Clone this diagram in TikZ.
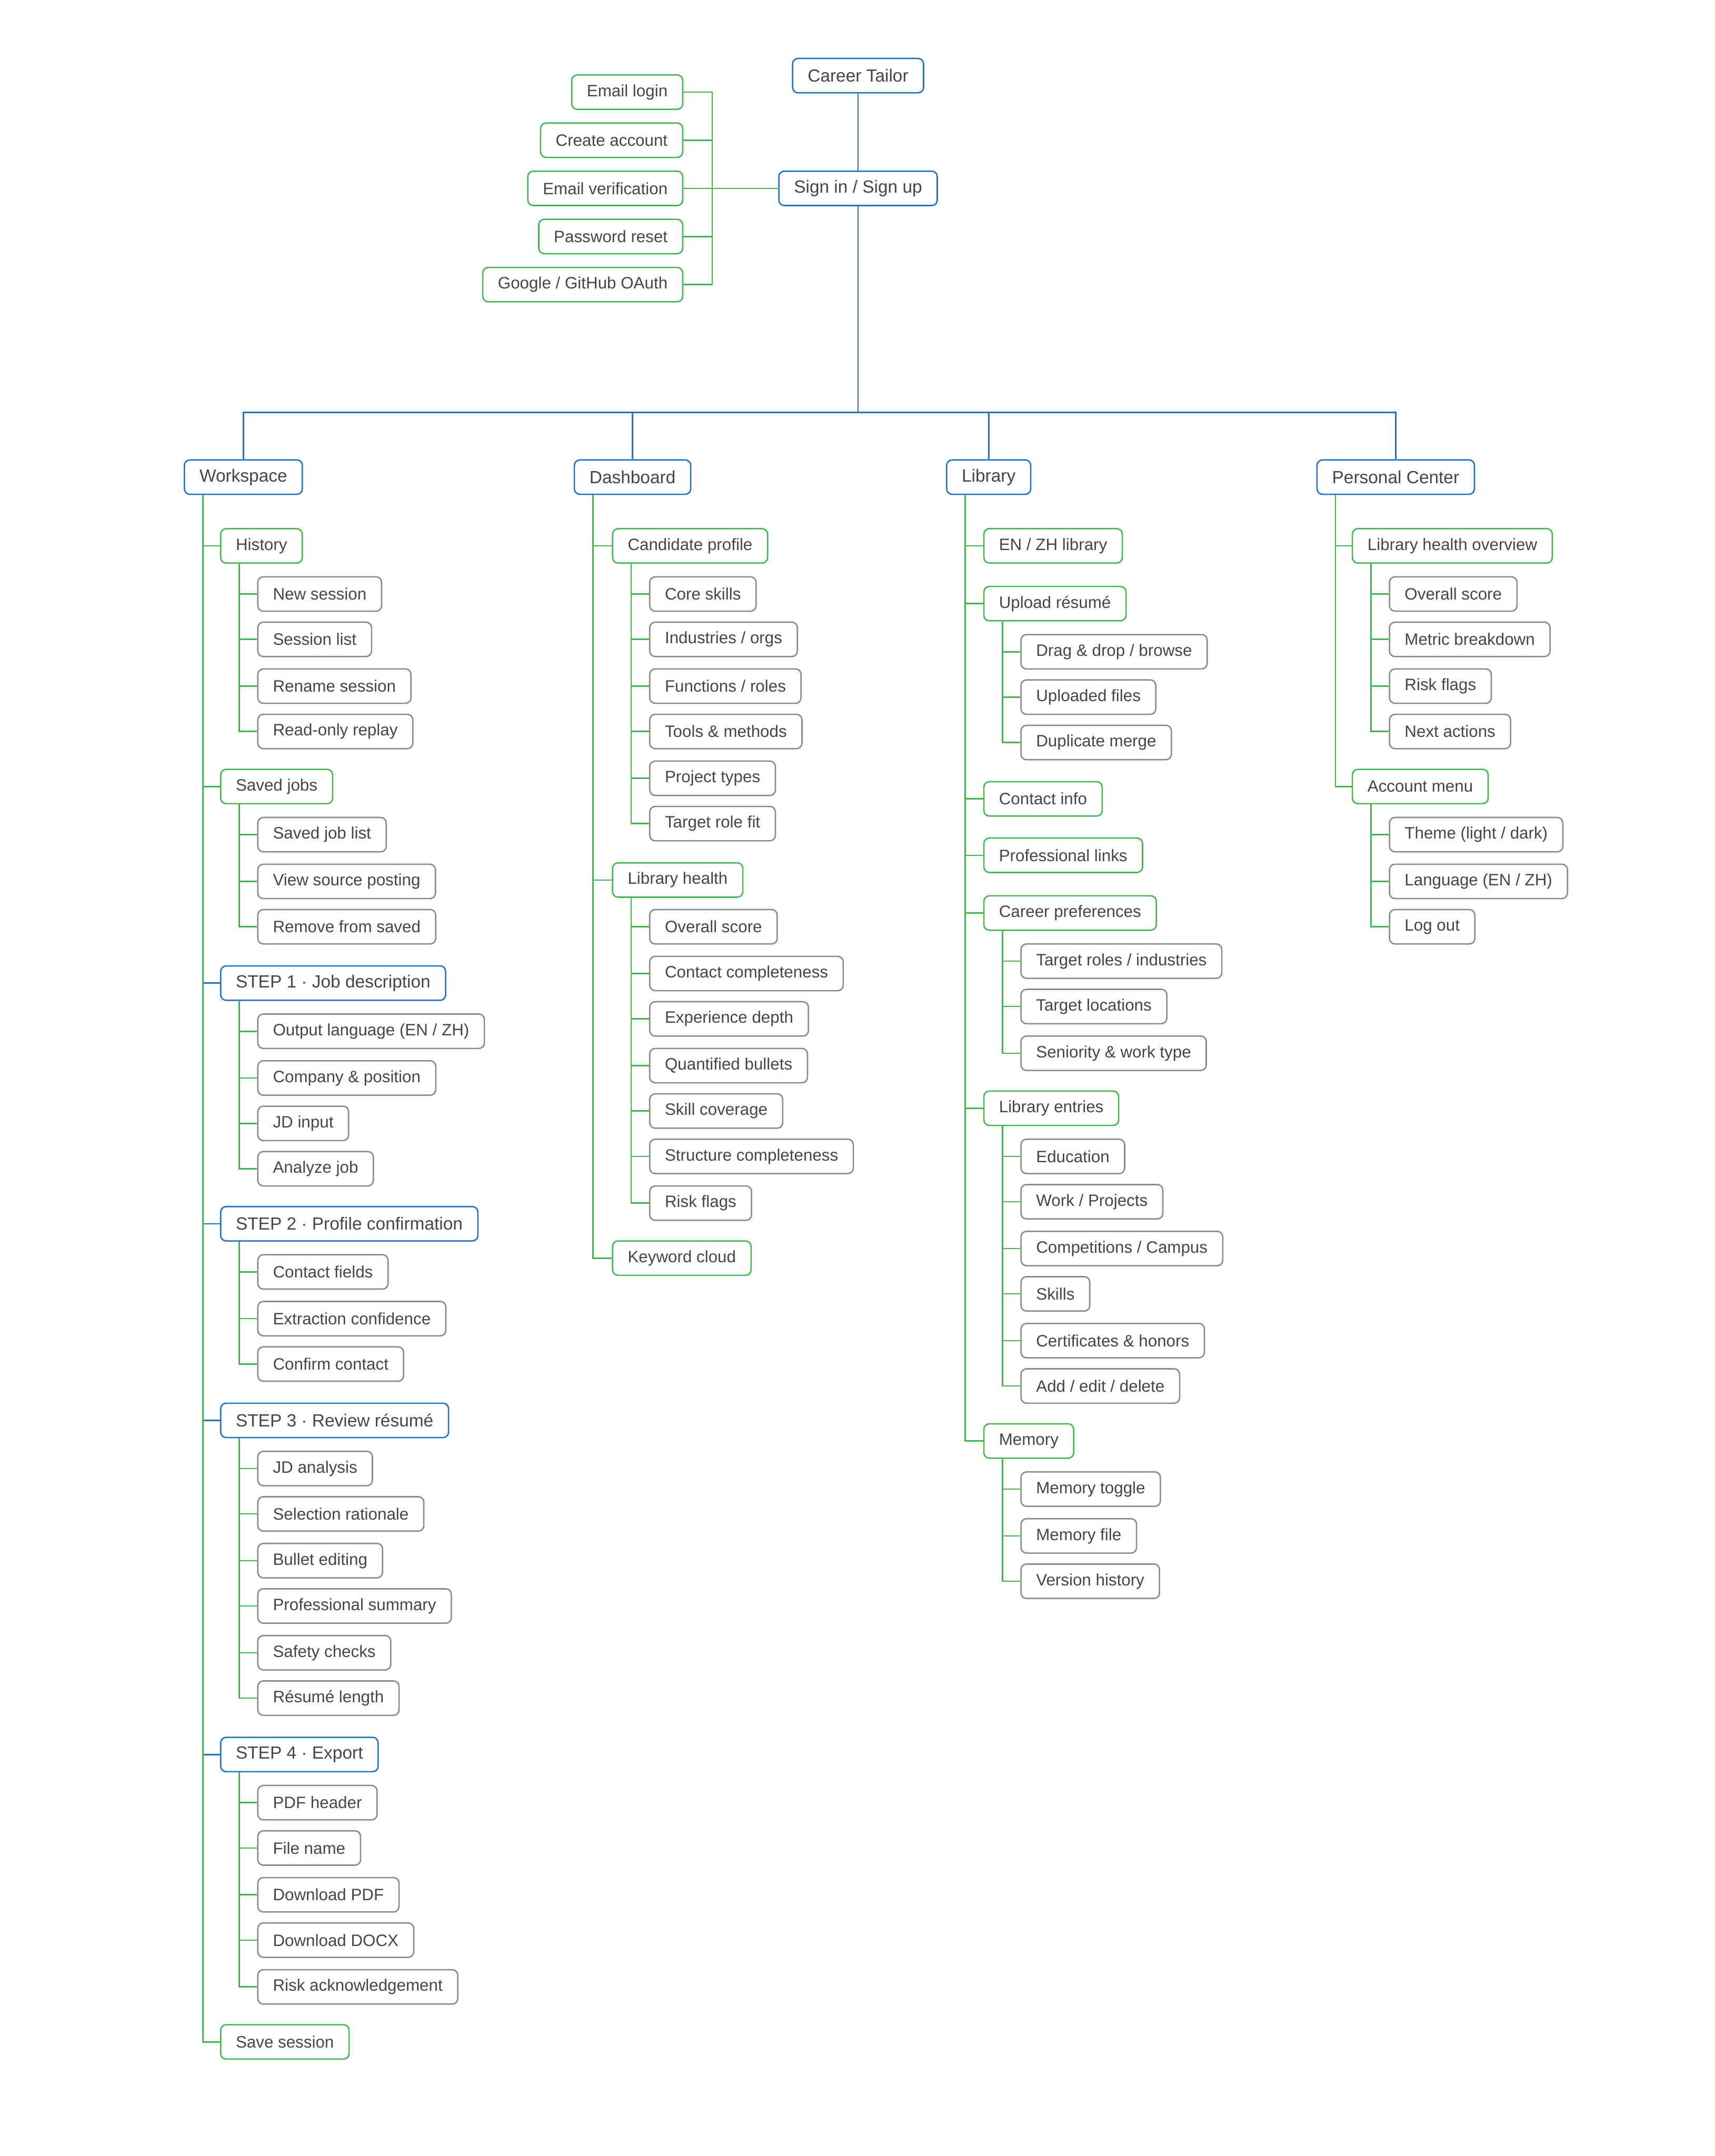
\documentclass[tikz,border=0pt]{standalone}
\usepackage{fontspec}
\setmainfont{Liberation Sans}
\definecolor{cb}{HTML}{2272C3}
\definecolor{cg}{HTML}{45B552}
\definecolor{cgr}{HTML}{8A8A8A}
\definecolor{tx}{HTML}{454545}
\newcommand\kid[7]{\node[#1,anchor=west] (#3) at (#4,-#5) {#6};
  \draw[#2] ([xshift=14pt]#7.south west) |- (#3.west);}
\newcommand\auth[3]{\node[G,anchor=east] (#1) at (497,-#2) {#3};
  \draw[lg] (si.west) -- ++(-48,0) |- (#1.east);}
\begin{document}
\begin{tikzpicture}[x=1pt,y=1pt,
 box/.style={draw,rounded corners=4pt,line width=1pt,minimum height=25pt,inner xsep=11pt,inner ysep=0pt,text=tx,font=\fontsize{12}{14}\selectfont},
 B/.style={box,draw=cb,font=\fontsize{12.8}{15}\selectfont},
 G/.style={box,draw=cg},
 R/.style={box,draw=cgr},
 lb/.style={draw=cb,line width=1pt},
 lg/.style={draw=cg,line width=1pt}]
\useasboundingbox (0,0) rectangle (1247.2,-1568);
\node[B] (ct) at (624,-55) {Career Tailor};
\node[B] (si) at (624,-137) {Sign in / Sign up};
\draw[lb] (ct) -- (si);
\auth{aua}{67}{Email login}
\auth{aub}{102}{Create account}
\auth{auc}{137}{Email verification}
\auth{aud}{172}{Password reset}
\auth{aue}{207}{Google / GitHub OAuth}
\node[B] (ws) at (177,-347) {Workspace};
\node[B] (db) at (460,-347) {Dashboard};
\node[B] (lib) at (719,-347) {Library};
\node[B] (pc) at (1015,-347) {Personal Center};
\foreach \n in {ws,db,lib,pc}{\draw[lb] (si.south) |- (\n.north |- 0,-300) -- (\n.north);}
% Workspace
\kid{G}{lg}{hi}{160}{397}{History}{ws}
\kid{R}{lg}{hi1}{187}{432}{New session}{hi}
\kid{R}{lg}{hi2}{187}{465}{Session list}{hi}
\kid{R}{lg}{hi3}{187}{499}{Rename session}{hi}
\kid{R}{lg}{hi4}{187}{532}{Read-only replay}{hi}
\kid{G}{lg}{sj}{160}{572}{Saved jobs}{ws}
\kid{R}{lg}{sj1}{187}{607}{Saved job list}{sj}
\kid{R}{lg}{sj2}{187}{641}{View source posting}{sj}
\kid{R}{lg}{sj3}{187}{674}{Remove from saved}{sj}
\kid{B}{lb}{s1}{160}{715}{STEP 1 · Job description}{ws}
\kid{R}{lg}{s11}{187}{750}{Output language (EN / ZH)}{s1}
\kid{R}{lg}{s12}{187}{784}{Company \& position}{s1}
\kid{R}{lg}{s13}{187}{817}{JD input}{s1}
\kid{R}{lg}{s14}{187}{850}{Analyze job}{s1}
\kid{B}{lb}{s2}{160}{890}{STEP 2 · Profile confirmation}{ws}
\kid{R}{lg}{s21}{187}{925}{Contact fields}{s2}
\kid{R}{lg}{s22}{187}{959}{Extraction confidence}{s2}
\kid{R}{lg}{s23}{187}{992}{Confirm contact}{s2}
\kid{B}{lb}{s3}{160}{1033}{STEP 3 · Review résumé}{ws}
\kid{R}{lg}{s31}{187}{1068}{JD analysis}{s3}
\kid{R}{lg}{s32}{187}{1101}{Selection rationale}{s3}
\kid{R}{lg}{s33}{187}{1135}{Bullet editing}{s3}
\kid{R}{lg}{s34}{187}{1168}{Professional summary}{s3}
\kid{R}{lg}{s35}{187}{1202}{Safety checks}{s3}
\kid{R}{lg}{s36}{187}{1235}{Résumé length}{s3}
\kid{B}{lb}{s4}{160}{1276}{STEP 4 · Export}{ws}
\kid{R}{lg}{s41}{187}{1311}{PDF header}{s4}
\kid{R}{lg}{s42}{187}{1344}{File name}{s4}
\kid{R}{lg}{s43}{187}{1378}{Download PDF}{s4}
\kid{R}{lg}{s44}{187}{1411}{Download DOCX}{s4}
\kid{R}{lg}{s45}{187}{1445}{Risk acknowledgement}{s4}
\kid{G}{lg}{ss}{160}{1485}{Save session}{ws}
% Dashboard
\kid{G}{lg}{cp}{445}{397}{Candidate profile}{db}
\kid{R}{lg}{cp1}{472}{432}{Core skills}{cp}
\kid{R}{lg}{cp2}{472}{465}{Industries / orgs}{cp}
\kid{R}{lg}{cp3}{472}{499}{Functions / roles}{cp}
\kid{R}{lg}{cp4}{472}{532}{Tools \& methods}{cp}
\kid{R}{lg}{cp5}{472}{566}{Project types}{cp}
\kid{R}{lg}{cp6}{472}{599}{Target role fit}{cp}
\kid{G}{lg}{lh}{445}{640}{Library health}{db}
\kid{R}{lg}{lh1}{472}{674}{Overall score}{lh}
\kid{R}{lg}{lh2}{472}{708}{Contact completeness}{lh}
\kid{R}{lg}{lh3}{472}{741}{Experience depth}{lh}
\kid{R}{lg}{lh4}{472}{775}{Quantified bullets}{lh}
\kid{R}{lg}{lh5}{472}{808}{Skill coverage}{lh}
\kid{R}{lg}{lh6}{472}{841}{Structure completeness}{lh}
\kid{R}{lg}{lh7}{472}{875}{Risk flags}{lh}
\kid{G}{lg}{kc}{445}{915}{Keyword cloud}{db}
% Library
\kid{G}{lg}{ez}{715}{397}{EN / ZH library}{lib}
\kid{G}{lg}{ur}{715}{439}{Upload résumé}{lib}
\kid{R}{lg}{ur1}{742}{474}{Drag \& drop / browse}{ur}
\kid{R}{lg}{ur2}{742}{507}{Uploaded files}{ur}
\kid{R}{lg}{ur3}{742}{540}{Duplicate merge}{ur}
\kid{G}{lg}{ci}{715}{581}{Contact info}{lib}
\kid{G}{lg}{pl}{715}{622}{Professional links}{lib}
\kid{G}{lg}{cpr}{715}{664}{Career preferences}{lib}
\kid{R}{lg}{cpr1}{742}{699}{Target roles / industries}{cpr}
\kid{R}{lg}{cpr2}{742}{732}{Target locations}{cpr}
\kid{R}{lg}{cpr3}{742}{766}{Seniority \& work type}{cpr}
\kid{G}{lg}{le}{715}{806}{Library entries}{lib}
\kid{R}{lg}{le1}{742}{841}{Education}{le}
\kid{R}{lg}{le2}{742}{874}{Work / Projects}{le}
\kid{R}{lg}{le3}{742}{908}{Competitions / Campus}{le}
\kid{R}{lg}{le4}{742}{941}{Skills}{le}
\kid{R}{lg}{le5}{742}{975}{Certificates \& honors}{le}
\kid{R}{lg}{le6}{742}{1008}{Add / edit / delete}{le}
\kid{G}{lg}{me}{715}{1048}{Memory}{lib}
\kid{R}{lg}{me1}{742}{1083}{Memory toggle}{me}
\kid{R}{lg}{me2}{742}{1117}{Memory file}{me}
\kid{R}{lg}{me3}{742}{1150}{Version history}{me}
% Personal Center
\kid{G}{lg}{lo}{983}{397}{Library health overview}{pc}
\kid{R}{lg}{lo1}{1010}{432}{Overall score}{lo}
\kid{R}{lg}{lo2}{1010}{465}{Metric breakdown}{lo}
\kid{R}{lg}{lo3}{1010}{499}{Risk flags}{lo}
\kid{R}{lg}{lo4}{1010}{532}{Next actions}{lo}
\kid{G}{lg}{am}{983}{572}{Account menu}{pc}
\kid{R}{lg}{am1}{1010}{607}{Theme (light / dark)}{am}
\kid{R}{lg}{am2}{1010}{641}{Language (EN / ZH)}{am}
\kid{R}{lg}{am3}{1010}{674}{Log out}{am}
\end{tikzpicture}
\end{document}
